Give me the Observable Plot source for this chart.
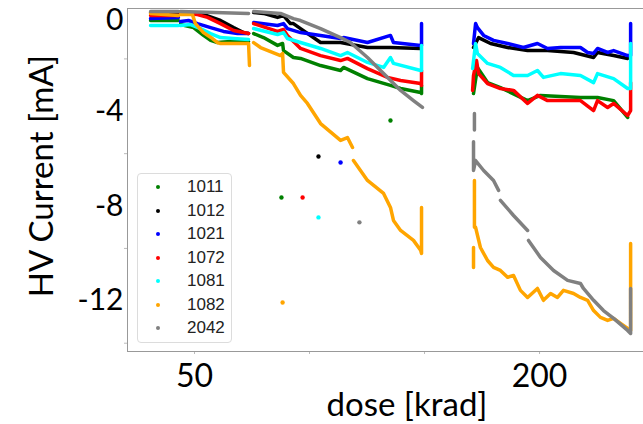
<!DOCTYPE html>
<html>
<head>
<meta charset="utf-8">
<script src="https://cdn.jsdelivr.net/npm/d3@7"></script>
<script src="https://cdn.jsdelivr.net/npm/@observablehq/plot@0.6"></script>
<style>
  html, body { margin: 0; padding: 0; background: #fff; }
  #wrap { position: relative; width: 643px; height: 424px; overflow: hidden; }
  #legend { position: absolute; left: 137px; top: 173px; width: 93px; height: 168px;
    border: 1px solid #dcdcdc; border-radius: 4px; background: rgba(255,255,255,0.85);
    font-family: "Liberation Sans", Arial, sans-serif; font-size: 17px; color: #222; }
  .row { position: absolute; left: 0; height: 20px; line-height: 20px; }
  .row .dot { position: absolute; left: 18px; top: 8px; width: 4px; height: 4px; border-radius: 2px; }
  .row .lab { position: absolute; left: 49px; top: 0; }
</style>
</head>
<body>
<div id="wrap"><div id="legend"></div></div>
<script>
// ---- data (dose [krad], HV current [mA]); null = gap in the record ----
const seriesNames = ["1011", "1012", "1021", "1072", "1081", "1082", "2042"];
const seriesColors = ["#008000", "#000000", "#0000ff", "#ff0000", "#00ffff", "#ffa500", "#808080"];

const s1011 = [[30.9,-0.38],[43.0,-0.38],null,
  [43.9,-0.55],[49.6,-0.68],[53.9,-1.01],[57.0,-1.22],[60.0,-1.31],[65.7,-1.27],[73.5,-1.27],null,
  [75.7,-0.93],[80.0,-1.10],[86.1,-1.43],[88.3,-1.35],[88.7,-1.65],[93.0,-1.94],[96.1,-1.98],[104.8,-2.28],
  [113.5,-2.49],[114.8,-2.36],[125.2,-2.83],[135.2,-3.12],[139.6,-3.25],[148.3,-3.42],[148.7,-3.46],[148.7,-3.12],null,
  [171.3,-3.46],[173.0,-2.36],[177.4,-3.00],[183.0,-3.21],[194.8,-3.76],[200.4,-3.54],[217.8,-3.63],[225.2,-3.63],
  [232.2,-3.76],[238.3,-4.47]];
const s1012 = [[30.9,-0.04],[43.0,-0.04],null,
  [43.9,-0.04],[52.6,-0.08],[61.3,-0.38],[67.0,-0.68],[71.3,-0.89],[73.5,-0.93],null,
  [75.7,-0.04],[80.0,-0.08],[86.1,-0.25],[88.7,-0.17],[91.7,-0.51],[93.0,-0.51],[96.1,-0.72],[104.8,-1.31],
  [113.5,-1.31],[125.2,-1.52],[135.2,-1.52],[148.3,-1.56],null,
  [171.3,-1.52],[173.5,-1.10],[178.7,-1.35],[186.1,-1.52],[194.8,-1.65],[203.5,-1.65],[214.8,-1.73],[223.5,-1.94],
  [225.2,-1.73],[232.2,-1.86],[238.3,-1.98]];
const s1021 = [[30.9,-0.30],[43.0,-0.25],null,
  [43.9,-0.42],[47.4,-0.38],[51.3,-0.51],[57.0,-0.68],[62.6,-0.84],[68.7,-0.93],[73.5,-0.93],null,
  [75.7,-0.46],[86.1,-0.59],[88.7,-0.51],[90.4,-0.72],[96.1,-0.89],[104.8,-1.01],[113.5,-1.14],[114.8,-1.10],
  [125.2,-1.31],[135.2,-1.01],[136.5,-1.31],[148.3,-1.43],[148.7,-1.43],[148.7,-0.51],null,
  [171.3,-1.35],[172.2,-0.51],[173.0,-0.68],[175.7,-1.01],[180.0,-1.22],[186.1,-1.35],[193.0,-1.52],[199.1,-1.35],
  [203.5,-1.56],[209.1,-1.52],[217.8,-1.52],[220.9,-1.73],[223.5,-1.77],[225.2,-1.56],[229.6,-1.73],[232.2,-1.65],
  [238.3,-1.86],[239.6,-1.86],[239.6,-0.51]];
const s1072 = [[30.9,-0.17],[43.0,-0.17],null,
  [43.9,-0.08],[51.3,-0.13],[55.7,-0.25],[61.3,-0.51],[67.0,-0.80],[73.5,-0.93],null,
  [75.7,-0.51],[86.1,-0.84],[88.7,-0.76],[90.4,-1.01],[96.1,-1.56],[104.8,-1.86],[113.5,-2.07],[116.5,-1.98],
  [125.2,-2.41],[133.9,-2.78],[139.6,-2.91],[148.3,-3.04],[148.7,-3.12],[148.7,-2.49],null,
  [170.9,-3.33],[171.3,-2.70],[172.6,-2.07],[173.5,-2.62],[177.4,-3.04],[183.0,-3.25],[188.7,-3.33],[194.8,-3.88],
  [199.1,-3.54],[203.5,-3.76],[209.1,-3.76],[217.8,-3.76],[223.5,-4.18],[225.2,-3.76],[229.6,-4.05],[232.2,-3.88],
  [238.3,-4.39],[239.6,-4.18],[239.6,-3.00]];
const s1081 = [[30.9,-0.59],[43.0,-0.59],null,
  [43.9,-0.59],[48.3,-0.55],[52.6,-0.72],[57.0,-0.93],[61.3,-1.10],[67.0,-1.14],[73.5,-1.18],null,
  [75.7,-0.72],[86.1,-0.97],[88.7,-0.89],[90.4,-1.14],[96.1,-1.31],[104.8,-1.56],[113.5,-1.86],[116.5,-1.73],
  [125.2,-2.15],[132.2,-2.36],[135.2,-1.94],[136.5,-2.19],[148.3,-2.49],[148.7,-2.49],[148.7,-1.43],null,
  [170.9,-2.41],[172.2,-1.35],[173.0,-1.77],[177.4,-2.19],[183.0,-2.36],[188.7,-2.70],[194.8,-2.70],[199.1,-2.49],
  [201.7,-2.78],[209.1,-2.62],[217.8,-2.70],[223.5,-3.00],[225.2,-2.62],[232.2,-2.83],[238.3,-3.25],[239.6,-3.25],
  [239.6,-1.35]];
const s1082 = [[30.9,-0.08],[43.0,-0.17],null,
  [43.9,-0.13],[49.1,-0.13],[50.4,-0.51],[53.9,-0.89],[57.8,-1.14],[60.0,-1.31],[61.3,-1.35],[73.5,-1.35],[73.9,-2.28],null,
  [75.7,-1.31],[78.7,-1.52],[87.4,-1.86],[88.3,-1.77],[88.7,-2.57],[93.0,-3.04],[96.1,-3.54],[99.1,-3.88],[104.8,-4.73],
  [113.5,-5.44],[116.5,-5.32],[118.7,-5.74],null,[119.1,-6.29],[125.2,-7.13],[132.2,-7.68],[135.2,-8.27],[136.5,-8.82],
  [139.6,-9.24],[145.2,-9.66],[148.3,-10.08],[148.7,-10.21],[148.7,-8.27],null,
  [171.7,-7.13],[171.7,-9.11],null,[171.3,-9.96],[171.3,-10.80],null,
  [172.2,-9.11],[174.3,-9.96],[177.4,-10.51],[180.0,-10.80],[183.0,-10.93],[186.1,-11.22],[188.7,-11.14],[191.7,-11.77],
  [194.8,-12.07],[199.1,-11.69],[201.7,-12.19],[204.8,-11.90],[207.8,-12.07],[210.4,-11.77],[214.8,-11.90],[217.8,-12.07],
  [220.9,-12.19],[223.5,-12.62],[226.5,-12.91],[229.6,-13.04],[232.2,-12.95],[235.2,-13.16],[238.3,-13.38],[239.6,-13.46],
  [239.6,-9.79]];
const s2042 = [[30.9,0.0],[43.0,0.0],null,
  [43.9,0.0],[73.5,-0.08],null,
  [75.7,0.0],[87.4,-0.08],[93.0,-0.30],[96.1,-0.38],[104.8,-0.72],[113.5,-1.10],[117.8,-1.31],[125.2,-1.94],
  [132.2,-2.62],[139.6,-3.33],[145.2,-3.76],[149.1,-4.05],null,
  [171.7,-4.30],[171.7,-5.00],null,[171.3,-5.50],[171.3,-6.71],[172.2,-6.29],[175.7,-6.71],[180.0,-7.13],[182.2,-7.55],null,
  [183.0,-7.97],[188.7,-8.61],[194.8,-9.24],null,
  [195.2,-9.66],[200.4,-10.38],[206.1,-10.93],[212.2,-11.35],[217.8,-11.48],[219.1,-11.69],[223.5,-12.19],[227.8,-12.62],
  [232.2,-12.95],[238.3,-13.46],[239.6,-13.59],[239.6,-11.69]];

// isolated readings
const strayNames = ["1011", "1011", "1012", "1021", "1072", "1081", "1082", "2042"];
const strayDose = [87.8, 135.2, 103.9, 113.5, 97.0, 103.9, 88.3, 121.7];
const strayCurrent = [-7.85, -4.60, -6.12, -6.37, -7.85, -8.69, -12.28, -8.90];

const yTopTick = [0];
const yTicks = [-4, -8, -12];
const yMinorTicks = [-2, -6, -10, -14];
const xTicks = [50, 200];
const xMinorTicks = [50, 100, 150, 200];

// ---- build tables ----
const seriesArrays = [s1011, s1012, s1021, s1072, s1081, s1082, s2042];
const rows = [];
seriesArrays.forEach((arr, i) => {
  arr.forEach(p => {
    if (p === null) rows.push({series: seriesNames[i], dose: NaN, current: NaN});
    else rows.push({series: seriesNames[i], dose: p[0], current: p[1]});
  });
});
const strays = strayNames.map((s, i) => ({series: s, dose: strayDose[i], current: strayCurrent[i]}));

const W = 643, H = 424;
const chart = Plot.plot({
  width: W, height: H,
  marginLeft: 127, marginRight: 0, marginTop: 8, marginBottom: 73,
  style: {fontFamily: "Lato, sans-serif", background: "transparent", color: "#000"},
  x: {domain: [20.87, 245.2], label: null},
  y: {domain: [-14.35, 0.127], label: null},
  color: {domain: seriesNames, range: seriesColors},
  marks: [
    Plot.axisY(yMinorTicks, {tickSize: 3, stroke: "#bbb", tickFormat: () => ""}),
    Plot.axisY(yTopTick, {tickSize: 0, tickPadding: 4, fontSize: 30, dy: 9, tickFormat: d => String(d), fill: "#000"}),
    Plot.axisY(yTicks, {tickSize: 0, tickPadding: 4, fontSize: 30, dy: 5, tickFormat: d => String(d), fill: "#000"}),
    Plot.axisX(xMinorTicks, {tickSize: 3, stroke: "#bbb", tickFormat: () => ""}),
    Plot.axisX(xTicks, {tickSize: 0, tickPadding: 13, fontSize: 32, tickFormat: d => String(d), fill: "#000"}),
    Plot.line(rows, {x: "dose", y: "current", z: "series", stroke: "series", strokeWidth: 3.5, strokeLinejoin: "round", strokeLinecap: "round"}),
    Plot.dot(strays, {x: "dose", y: "current", fill: "series", r: 2.2, stroke: null}),
    Plot.frame({anchor: "left", stroke: "#999"}),
    Plot.frame({anchor: "bottom", stroke: "#999"}),
    Plot.frame({anchor: "top", stroke: "#999"})
  ]
});

const svg = d3.select(chart);
svg.append("text")
  .attr("transform", "translate(53,176) rotate(-90)")
  .attr("text-anchor", "middle")
  .attr("font-family", "Lato, sans-serif")
  .attr("font-size", 33)
  .attr("fill", "#000")
  .text("HV Current [mA]");
svg.append("text")
  .attr("x", 407).attr("y", 416)
  .attr("text-anchor", "middle")
  .attr("font-family", "Lato, sans-serif")
  .attr("font-size", 33)
  .attr("fill", "#000")
  .text("dose [krad]");

const wrap = document.getElementById("wrap");
wrap.insertBefore(chart, wrap.firstChild);

// legend
const legend = document.getElementById("legend");
seriesNames.forEach((name, i) => {
  const row = document.createElement("div");
  row.className = "row";
  row.style.top = (3 + i * 23.5) + "px";
  row.innerHTML = `<span class="dot" style="background:${seriesColors[i]}"></span><span class="lab">${name}</span>`;
  legend.appendChild(row);
});
</script>
</body>
</html>
